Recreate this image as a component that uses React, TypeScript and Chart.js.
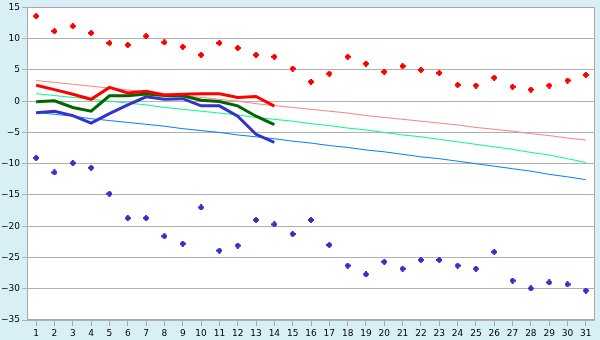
import React, { useEffect, useRef } from "react";
import { Chart, registerables } from "chart.js";

Chart.register(...registerables);

const days = Array.from({ length: 31 }, (_, i) => String(i + 1));

const maxRecord = [13.6, 11.2, 12.0, 10.9, 9.3, 9.0, 10.4, 9.4, 8.7, 7.4, 9.3, 8.5, 7.4, 7.1, 5.2, 3.1, 4.4, 7.1, 6.0, 4.7, 5.6, 5.0, 4.5, 2.6, 2.5, 3.75, 2.3, 1.85, 2.5, 3.3, 4.2];
const minRecord = [-9.07, -11.4, -9.9, -10.65, -14.8, -18.7, -18.7, -21.6, -22.8, -17.0, -23.9, -23.1, -19.0, -19.7, -21.25, -19.0, -23.0, -26.3, -27.7, -25.7, -26.8, -25.4, -25.4, -26.3, -26.8, -24.1, -28.7, -29.95, -29.0, -29.3, -30.3];

const maxActual = [2.55, 1.85, 1.1, 0.3, 2.2, 1.3, 1.6, 1.0, 1.1, 1.2, 1.2, 0.6, 0.75, -0.8];
const meanActual = [-0.1, 0.05, -1.0, -1.6, 0.85, 0.85, 1.15, 0.9, 0.85, 0.15, -0.05, -0.75, -2.4, -3.75];
const minActual = [-1.85, -1.6, -2.3, -3.5, -2.0, -0.6, 0.7, 0.3, 0.4, -0.75, -0.75, -2.4, -5.3, -6.6];

const maxNormal = [3.3, 3.0, 2.7, 2.4, 2.1, 1.8, 1.5, 1.2, 0.9, 0.6, 0.3, 0.0, -0.4, -0.7, -1.0, -1.3, -1.6, -1.9, -2.3, -2.6, -2.9, -3.2, -3.5, -3.8, -4.2, -4.5, -4.8, -5.2, -5.5, -5.9, -6.2];
const meanNormal = [1.2, 0.9, 0.6, 0.3, 0.0, -0.3, -0.6, -1.0, -1.3, -1.6, -1.9, -2.2, -2.6, -2.9, -3.2, -3.6, -3.9, -4.3, -4.6, -5.0, -5.4, -5.7, -6.1, -6.5, -6.9, -7.3, -7.7, -8.2, -8.6, -9.2, -9.8];
const minNormal = [-1.8, -2.1, -2.4, -2.8, -3.1, -3.4, -3.7, -4.0, -4.4, -4.7, -5.0, -5.4, -5.7, -6.0, -6.4, -6.7, -7.1, -7.4, -7.8, -8.1, -8.5, -8.9, -9.2, -9.6, -10.0, -10.4, -10.8, -11.2, -11.7, -12.1, -12.55];

const FONT = { family: "DejaVu Sans", size: 9 };

const MARKER = ["..XX..", ".XXXX.", "XXXXXX", "XXXXXX", ".XXXX.", "..XX.."];

function makeMarker(color: string) {
  const c = document.createElement("canvas");
  c.width = 6;
  c.height = 6;
  const g = c.getContext("2d")!;
  g.fillStyle = color;
  MARKER.forEach((row, y) => {
    for (let x = 0; x < row.length; x++) if (row[x] === "X") g.fillRect(x, y, 1, 1);
  });
  return c;
}

const plotBg = {
  id: "plotBg",
  beforeDraw(chart: any) {
    const { ctx, chartArea: a } = chart;
    ctx.save();
    ctx.fillStyle = "#ffffff";
    ctx.fillRect(a.left, a.top, a.right - a.left, a.bottom - a.top);
    ctx.restore();
  },
  afterDatasetsDraw(chart: any) {
    const { ctx, chartArea: a } = chart;
    ctx.save();
    ctx.strokeStyle = "#a8a8a8";
    ctx.lineWidth = 1;
    ctx.strokeRect(Math.round(a.left) + 0.5, Math.round(a.top) + 0.5, Math.round(a.right - a.left) - 1, Math.round(a.bottom - a.top) - 1);
    ctx.restore();
  },
};

export default function App() {
  const ref = useRef<HTMLCanvasElement>(null);
  useEffect(() => {
    document.body.style.margin = "0";
    const pt = (color: string, data: number[]) => ({
      data,
      showLine: false,
      pointStyle: makeMarker(color),
      pointRadius: 3,
      borderColor: color,
      backgroundColor: color,
    });
    const thick = (color: string, data: number[]) => ({
      data,
      borderColor: color,
      borderWidth: 3,
      pointRadius: 0,
      tension: 0,
      fill: false,
    });
    const thin = (color: string, data: number[]) => ({
      data,
      borderColor: color,
      borderWidth: 1,
      pointRadius: 0,
      tension: 0,
      fill: false,
    });
    const chart = new Chart(ref.current!, {
      type: "line",
      data: {
        labels: days,
        datasets: [
          pt("#ff0000", maxRecord),
          pt("#3333cc", minRecord),
          thick("#ff0000", maxActual),
          thick("#006600", meanActual),
          thick("#3333cc", minActual),
          thin("#ff8080", maxNormal),
          thin("#00ff80", meanNormal),
          thin("#0080ff", minNormal),
        ] as any,
      },
      options: {
        responsive: false,
        animation: false,
        layout: { padding: { top: 5, right: 5, left: 0, bottom: 0 } },
        plugins: { legend: { display: false }, tooltip: { enabled: false } },
        scales: {
          x: {
            type: "category",
            offset: true,
            grid: { display: true, drawOnChartArea: false, drawTicks: true, tickLength: 6, offset: false, color: "#a8a8a8" },
            border: { display: false },
            ticks: { color: "#000", font: FONT, padding: 2, maxRotation: 0, autoSkip: false },
            afterFit: (s: any) => { s.height = 20; },
          },
          y: {
            min: -35,
            max: 15,
            grid: { color: "#b0b0b0", tickLength: 5, drawTicks: true },
            border: { display: false },
            ticks: {
              stepSize: 5,
              color: "#000",
              font: FONT,
              padding: 2,
              callback: (v: any) => (Number(v) < 0 ? "\u2212" + Math.abs(Number(v)) : String(v)),
            },
            afterFit: (s: any) => { s.width = 27; },
          },
        },
      },
      plugins: [plotBg],
    });
    return () => chart.destroy();
  }, []);
  return (
    <div style={{ position: "fixed", left: 0, top: 0, width: 600, height: 340, background: "#d9eff6" }}>
      <canvas ref={ref} width={600} height={340} />
    </div>
  );
}
